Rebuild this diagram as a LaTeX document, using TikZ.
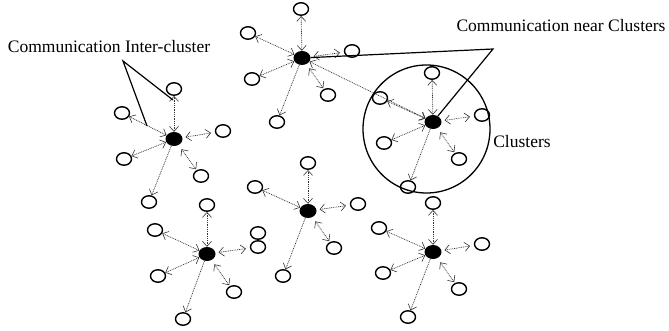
\documentclass[tikz,border=0pt]{standalone}
\usepackage{fontspec}
\setmainfont{Liberation Serif}
\usepackage{tikz}
\usetikzlibrary{arrows.meta,shapes.geometric}

\tikzset{
	hub/.style={ellipse,fill=black,minimum width=17pt,minimum height=14pt,inner sep=0},
	sat/.style={ellipse,draw,line width=1.4pt,minimum width=15pt,minimum height=12.5pt,inner sep=0},
	link/.style={dash pattern=on 0.9pt off 0.9pt,line width=0.7pt,black!80,>={Straight Barb[length=5pt,width=9pt,line width=0.6pt]},<->},
	linkone/.style={link,->},
	callout/.style={line width=1.2pt},
	lbl/.style={inner sep=0,font=\fontsize{17.5}{20}\selectfont}
}

\begin{document}
\begin{tikzpicture}[x=1pt,y=-1pt]
			\useasboundingbox (0,0) rectangle (669,331);
			\node[ellipse,draw,line width=1.3pt,minimum width=127pt,minimum height=128pt] (ring) at (426.5,129) {};
			\foreach \n/\x/\y in {A/174/139,B/302/58,C/433/122,D/308/211,E/207/254,F/433/252}{
				\node[hub] (\n) at (\x,\y) {};
			}
			\foreach \n/\x/\y in {A-t/174/89,A-ul/122/113,A-r/223/131,A-ll/124/159,A-lr/201/176,A-b/149/202,
				B-t/301/9,B-ul/248/33,B-r/352/51,B-ll/252/79,B-lr/328/95,B-b/277/122,
				C-t/432/73,C-ul/380/98,C-r/482/115,C-ll/384/143,C-lr/459/159,C-b/408/187,
				D-t/308/163,D-ul/255/187,D-r/358/204,D-lr/334/248,D-b/283/276,
				E-t/207/205,E-ul/155/230,E-r/258/247,E-x/258/233,E-ll/158/276,E-lr/234/292,E-b/183/319,
				F-t/433/203,F-ul/379/228,F-r/482/244,F-ll/383/273,F-lr/459/289,F-b/408/317}{
				\node[sat] (\n) at (\x,\y) {};
			}
			\foreach \h in {A,B,C,D,E,F}{
				\draw[link] (\h) -- (\h-t);
				\draw[link] (\h) -- (\h-ul);
				\draw[link,shorten <=3pt,shorten >=4pt] (\h) -- (\h-r);
				\draw[link,shorten <=5pt,shorten >=1pt] (\h) -- (\h-lr);
				\draw[linkone] (\h) -- (\h-b);
			}
			\foreach \h in {A,B,C,E,F}{ \draw[link] (\h) -- (\h-ll); }
			\draw[link] (B) -- (C);

			\node[lbl] (inter) at (109,47) {Communication Inter-cluster};
			\coordinate (inter-pin) at (123,61);
			\coordinate (inter-a) at (147,126);
			\coordinate (inter-b) at (173,100);
			\draw[callout] (inter-a) -- (inter-pin) -- (inter-b);

			\node[lbl] (near) at (561,26) {Communication near Clusters};
			\coordinate (near-pin) at (493,49);
			\draw[callout] (B) -- (near-pin) -- (C);

			\node[lbl] (clus) at (522,142) {Clusters};
		\end{tikzpicture}
\end{document}
